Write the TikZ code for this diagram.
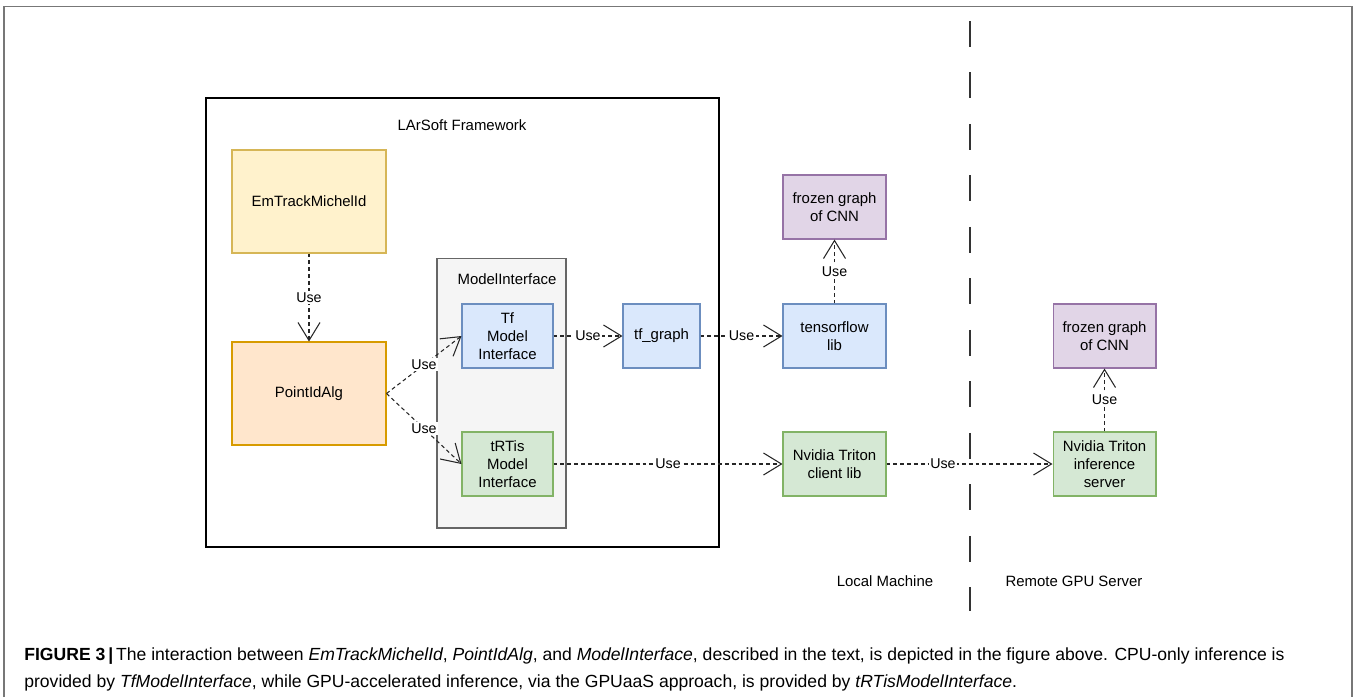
\documentclass[tikz,border=0pt]{standalone}
\usepackage{fontspec}
\setmainfont{Liberation Sans}
\usepackage{tikz}
\usetikzlibrary{arrows.meta, positioning}
\usepackage{xcolor}
\definecolor{yelFill}{HTML}{FFF2CC}
\definecolor{yelLine}{HTML}{D6B656}
\definecolor{orgFill}{HTML}{FFE6CC}
\definecolor{orgLine}{HTML}{D79B00}
\definecolor{bluFill}{HTML}{DAE8FC}
\definecolor{bluLine}{HTML}{6C8EBF}
\definecolor{grnFill}{HTML}{D5E8D4}
\definecolor{grnLine}{HTML}{82B366}
\definecolor{purFill}{HTML}{E1D5E7}
\definecolor{purLine}{HTML}{9673A6}
\definecolor{gryFill}{HTML}{F5F5F5}
\definecolor{gryLine}{HTML}{666666}
\definecolor{frameGray}{HTML}{777777}

\begin{document}
\begin{tikzpicture}[x=0.02cm, y=-0.02cm, font=\fontsize{8.5}{10.2}\selectfont]
    % Styles
    \tikzstyle{block} = [rectangle, draw, line width=0.6pt, align=center, inner sep=0pt, minimum width=2.06cm, minimum height=1.28cm]
    \tikzstyle{bigblock} = [block, minimum width=3.08cm, minimum height=2.06cm]
    \tikzstyle{tfbox} = [block, fill=bluFill, draw=bluLine]
    \tikzstyle{trtbox} = [block, fill=grnFill, draw=grnLine]
    \tikzstyle{cnnbox} = [block, fill=purFill, draw=purLine]
    \tikzstyle{line} = [draw, black!85, line width=0.6pt, dash pattern=on 2.2pt off 1.7pt, -{Straight Barb[length=3.6mm,width=4.4mm]}]
    \tikzstyle{uselabel} = [fill=white, text=black, inner sep=1pt, font=\fontsize{8.1}{9}\selectfont]

    \useasboundingbox (0,0) rectangle (1354,697);

    % Frame
    \coordinate (frameBL) at (4,697);
    \coordinate (frameTR) at (1352,6.5);
    \coordinate (frameBR) at (1352,697);
    \draw [frameGray, line width=0.9pt] (frameBL) |- (frameTR) -- (frameBR);

    % Containers
    \node [draw, line width=0.8pt, minimum width=10.26cm, minimum height=8.98cm] (lar) at (462.5,322.5) {};
    \node (larlabel) at (462,125) {LArSoft Framework};
    \node [draw=gryLine, fill=gryFill, line width=0.6pt, minimum width=2.58cm, minimum height=5.4cm] (mi) at (501.5,393) {};
    \node (milabel) at (507,279) {ModelInterface};

    % Nodes
    \node [bigblock, fill=yelFill, draw=yelLine] (em) at (309,201.5) {EmTrackMichelId};
    \node [bigblock, fill=orgFill, draw=orgLine] (pid) at (309,393.5) {PointIdAlg};
    \node [tfbox, minimum width=1.82cm] (tf) at (507.5,336) {Tf\\Model\\Interface};
    \node [trtbox, minimum width=1.82cm] (trt) at (507.5,464) {tRTis\\Model\\Interface};
    \node [tfbox, minimum width=1.54cm] (tfg) at (661.5,336) {tf\_graph};
    \node [tfbox] (tfl) at (834.5,336) {tensorflow\\lib};
    \node [cnnbox] (cnn1) at (834.5,207) {frozen graph\\of CNN};
    \node [trtbox] (tcl) at (834.5,464) {Nvidia Triton\\client lib};
    \node [cnnbox] (cnn2) at (1104.5,336) {frozen graph\\of CNN};
    \node [trtbox] (tis) at (1104.5,464) {Nvidia Triton\\inference\\server};

    % Edges
    \path [line] (em) -- node [uselabel] {Use} (pid);
    \path [line] (pid.east) -- node [uselabel] {Use} (tf.west);
    \path [line] (pid.east) -- node [uselabel] {Use} (trt.west);
    \path [line] (tf) -- node [uselabel] {Use} (tfg);
    \path [line] (tfg) -- node [uselabel] {Use} (tfl);
    \path [line] (tfl) -- node [uselabel] {Use} (cnn1);
    \path [line] (trt) -- node [uselabel] {Use} (tcl);
    \path [line] (tcl) -- node [uselabel, pos=0.34] {Use} (tis);
    \path [line] (tis) -- node [uselabel] {Use} (cnn2);

    % Machine split
    \coordinate (sepTop) at (970,21);
    \coordinate (sepBot) at (970,611);
    \draw [black!80, line width=0.8pt, dash pattern=on 0.52cm off 0.51cm] (sepTop) -- (sepBot);
    \node (local) at (885,581) {Local Machine};
    \node (remote) at (1074,581) {Remote GPU Server};

    % Caption
    \node [anchor=base west, inner sep=0pt, font=\fontsize{10}{11}\selectfont] (cap1) at (24,660) {\textbf{FIGURE 3\,|}\,The interaction between \textit{EmTrackMichelId}, \textit{PointIdAlg}, and \textit{ModelInterface}, described in the text, is depicted in the figure above. CPU-only inference is};
    \node [anchor=base west, inner sep=0pt, font=\fontsize{10}{11}\selectfont] (cap2) at (24,687) {provided by \textit{TfModelInterface}, while GPU-accelerated inference, via the GPUaaS approach, is provided by \textit{tRTisModelInterface}.};
\end{tikzpicture}
\end{document}
